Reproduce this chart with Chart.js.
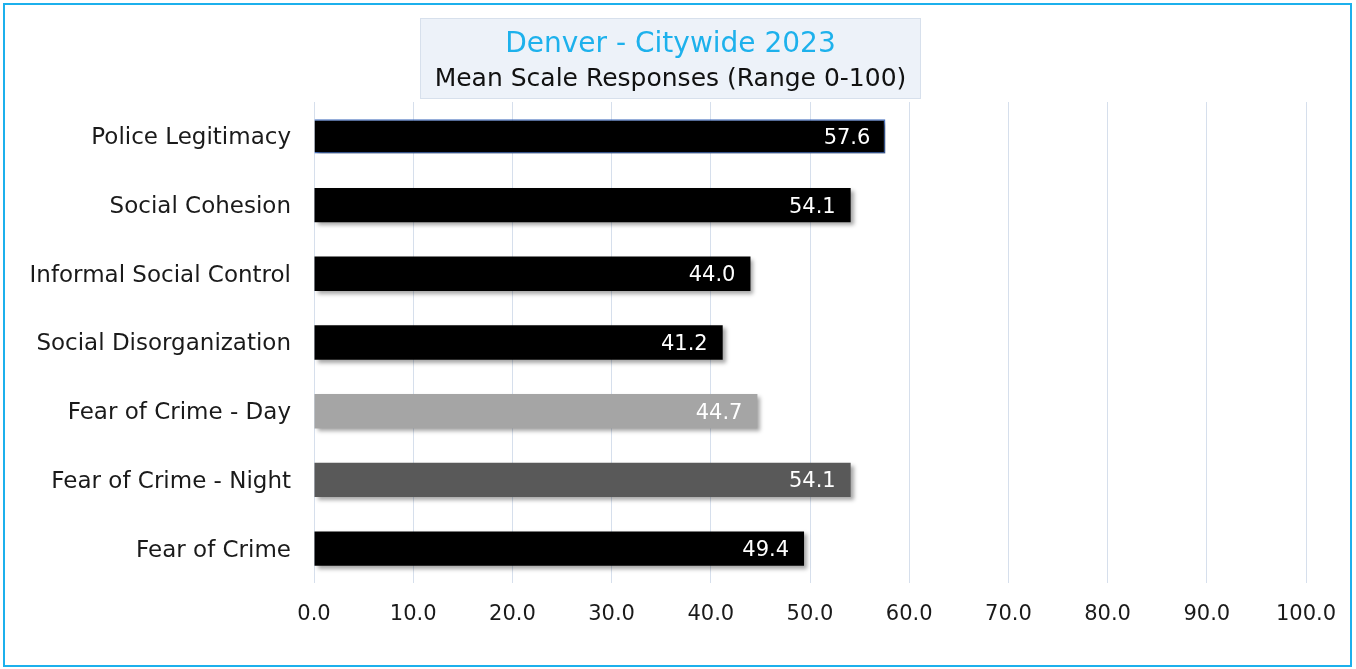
<!DOCTYPE html>
<html>
<head>
<meta charset="utf-8">
<script src="https://cdn.jsdelivr.net/npm/chart.js@4/dist/chart.umd.min.js"></script>
<style>
    html, body { margin: 0; padding: 0; background: #fff; }
    #wrap { position: relative; width: 1356px; height: 669px; overflow: hidden; }
    #frame { position: absolute; left: 3px; top: 3px; width: 1345px; height: 660px; border: 2.5px solid #1cb0ec; }
    #titlebox {
        position: absolute; left: 420px; top: 18px; width: 499px; height: 79px;
        background: #edf2f9; border: 1px solid #d7e0ec; font-family: "DejaVu Sans", sans-serif; text-align: center;
    }
    #titlebox .t1 { position: absolute; left: 0; right: 0; top: 6px; font-size: 28px; line-height: 36px; color: #1db1ec; }
    #titlebox .t2 { position: absolute; left: 0; right: 0; top: 43px; font-size: 25px; line-height: 32px; color: #111; }
    canvas { position: absolute; left: 0; top: 0; }
</style>
</head>
<body>
<div id="wrap">
    <canvas id="chart" width="1356" height="669"></canvas>
    <div id="titlebox">
        <div class="t1">Denver - Citywide 2023</div>
        <div class="t2">Mean Scale Responses (Range 0-100)</div>
    </div>
    <div id="frame"></div>
</div>
<script>
    // scale names, top to bottom
    var categories = ["Police Legitimacy", "Social Cohesion", "Informal Social Control", "Social Disorganization",
        "Fear of Crime - Day", "Fear of Crime - Night", "Fear of Crime"];
    var means = [57.6, 54.1, 44.0, 41.2, 44.7, 54.1, 49.4];
    var barColors = ["#000000", "#000000", "#000000", "#000000", "#a5a5a5", "#595959", "#000000"];
    var barBorders = ["#4a74c2", "#000000", "#000000", "#000000", "#a5a5a5", "#595959", "#000000"];
    var xTicks = [0, 10, 20, 30, 40, 50, 60, 70, 80, 90, 100];

    var FONT = 'DejaVu Sans';

    // soft drop shadow under bars, then value labels inside bar ends
    var barShadow = {
        id: 'barShadow',
        beforeDatasetsDraw: function (chart) {
            var ctx = chart.ctx;
            ctx.save();
            ctx.shadowColor = 'rgba(0, 0, 0, 0.35)';
            ctx.shadowBlur = 4;
            ctx.shadowOffsetX = 3;
            ctx.shadowOffsetY = 3;
        },
        afterDatasetsDraw: function (chart) {
            var ctx = chart.ctx;
            ctx.restore();
            ctx.save();
            ctx.font = '21px "' + FONT + '", sans-serif';
            ctx.fillStyle = '#ffffff';
            ctx.textAlign = 'right';
            ctx.textBaseline = 'middle';
            chart.getDatasetMeta(0).data.forEach(function (bar, i) {
                ctx.fillText(means[i].toFixed(1), bar.x - 15, bar.y + 2);
            });
            ctx.restore();
        }
    };

    var chart = new Chart(document.getElementById("chart"), {
        type: 'bar',
        data: {
            labels: categories,
            datasets: [{
                data: means,
                backgroundColor: barColors,
                borderColor: barBorders,
                borderWidth: [1.5, 0, 0, 0, 0, 0, 0],
                categoryPercentage: 1,
                barPercentage: 0.5
            }]
        },
        options: {
            indexAxis: 'y',
            responsive: false,
            animation: false,
            layout: { padding: { top: 102, right: 50, left: 0, bottom: 0 } },
            plugins: {
                legend: { display: false },
                tooltip: { enabled: false }
            },
            scales: {
                x: {
                    min: 0,
                    max: 100,
                    afterBuildTicks: function (scale) {
                        scale.ticks = xTicks.map(function (v) { return { value: v }; });
                    },
                    afterFit: function (scale) { scale.height = 86; },
                    grid: { color: '#d6dfec', lineWidth: 1, drawTicks: false },
                    border: { display: false },
                    ticks: {
                        padding: 19,
                        color: '#1a1a1a',
                        font: { family: FONT, size: 21 },
                        callback: function (v) { return Number(v).toFixed(1); }
                    }
                },
                y: {
                    afterFit: function (scale) { scale.width = 314; },
                    grid: { display: false },
                    border: { display: false },
                    ticks: {
                        padding: 15,
                        labelOffset: 2,
                        color: '#1a1a1a',
                        font: { family: FONT, size: 23 }
                    }
                }
            }
        },
        plugins: [barShadow]
    });
</script>
</body>
</html>
